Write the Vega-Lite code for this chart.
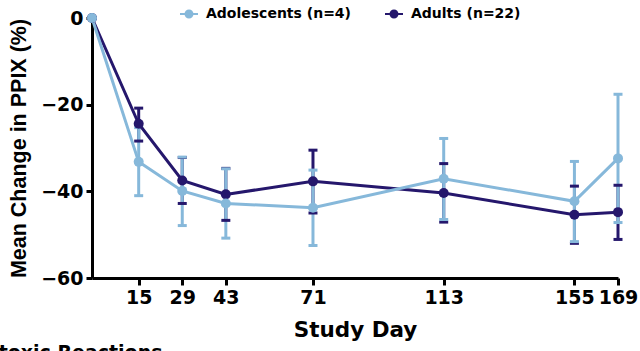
{
  "$schema": "https://vega.github.io/schema/vega-lite/v6.json",
  "autosize": "none",
  "width": 526,
  "height": 260,
  "padding": {"left": 92, "top": 18, "right": 22, "bottom": 73},
  "background": "white",
  "title": {"text": "Phototoxic Reactions", "orient": "bottom", "anchor": "start", "frame": "group", "dx": -156, "offset": 3, "baseline": "top", "fontSize": 19, "font": "DejaVu Sans", "fontWeight": "bold", "color": "black"},
  "config": {
    "view": {"stroke": null},
    "font": "DejaVu Sans",
    "axis": {"grid": false, "domainColor": "black", "domainWidth": 3, "tickColor": "black", "tickWidth": 3, "labelColor": "black", "labelFontWeight": "bold", "labelFont": "DejaVu Sans", "labelFontSize": 19, "titleFont": "DejaVu Sans", "titleFontWeight": "bold", "titleFontSize": 21.5, "titleColor": "black"}
  },
  "data": {"values": [
    {"day": 0, "group": "Adults (n=22)", "mean": 0, "lo": 0, "hi": 0},
    {"day": 15, "group": "Adults (n=22)", "mean": -24.4, "lo": -28.4, "hi": -20.8},
    {"day": 29, "group": "Adults (n=22)", "mean": -37.5, "lo": -42.8, "hi": -32.2},
    {"day": 43, "group": "Adults (n=22)", "mean": -40.7, "lo": -46.7, "hi": -34.7},
    {"day": 71, "group": "Adults (n=22)", "mean": -37.7, "lo": -45.0, "hi": -30.5},
    {"day": 113, "group": "Adults (n=22)", "mean": -40.4, "lo": -47.1, "hi": -33.6},
    {"day": 155, "group": "Adults (n=22)", "mean": -45.4, "lo": -52.0, "hi": -38.8},
    {"day": 169, "group": "Adults (n=22)", "mean": -44.8, "lo": -51.1, "hi": -38.6},
    {"day": 0, "group": "Adolescents (n=4)", "mean": 0, "lo": 0, "hi": 0},
    {"day": 15, "group": "Adolescents (n=4)", "mean": -33.2, "lo": -41.0, "hi": -25.3},
    {"day": 29, "group": "Adolescents (n=4)", "mean": -39.9, "lo": -47.9, "hi": -32.1},
    {"day": 43, "group": "Adolescents (n=4)", "mean": -42.8, "lo": -50.8, "hi": -34.8},
    {"day": 71, "group": "Adolescents (n=4)", "mean": -43.8, "lo": -52.5, "hi": -35.1},
    {"day": 113, "group": "Adolescents (n=4)", "mean": -37.1, "lo": -46.5, "hi": -27.8},
    {"day": 155, "group": "Adolescents (n=4)", "mean": -42.3, "lo": -51.6, "hi": -33.1},
    {"day": 169, "group": "Adolescents (n=4)", "mean": -32.4, "lo": -47.2, "hi": -17.6}
  ]},
  "encoding": {
    "x": {"field": "day", "type": "quantitative", "scale": {"domain": [0, 169], "nice": false, "zero": false},
          "axis": {"values": [15, 29, 43, 71, 113, 155, 169], "title": "Study Day", "tickSize": 7, "labelPadding": 3, "titlePadding": 12, "labelOverlap": false, "labelBound": false, "labelFlush": false}},
    "color": {"field": "group", "type": "nominal",
              "scale": {"domain": ["Adolescents (n=4)", "Adults (n=22)"], "range": ["#86b8da", "#25176c"]},
              "legend": {"orient": "none", "legendX": 88, "legendY": -13, "direction": "horizontal", "title": null,
                         "symbolType": "M-1,-0.12L1,-0.12L1,0.12L-1,0.12Z M-0.5,0A0.5,0.5 0 1,1 0.5,0A0.5,0.5 0 1,1 -0.5,0Z",
                         "symbolSize": 324, "symbolStrokeWidth": 0, "symbolOpacity": 1, "labelFontSize": 14, "labelFontWeight": "bold", "labelColor": "black", "labelFont": "DejaVu Sans", "columnPadding": 34, "labelOffset": 8}}
  },
  "layer": [
    {"mark": {"type": "rule", "strokeWidth": 3, "opacity": 1},
     "encoding": {"y": {"field": "lo", "type": "quantitative"}, "y2": {"field": "hi"}}},
    {"mark": {"type": "tick", "thickness": 3, "size": 9, "orient": "horizontal", "opacity": 1},
     "encoding": {"y": {"field": "lo", "type": "quantitative"}}},
    {"mark": {"type": "tick", "thickness": 3, "size": 9, "orient": "horizontal", "opacity": 1},
     "encoding": {"y": {"field": "hi", "type": "quantitative"}}},
    {"mark": {"type": "line", "strokeWidth": 3},
     "encoding": {"y": {"field": "mean", "type": "quantitative"}, "detail": {"field": "group"}}},
    {"mark": {"type": "point", "filled": true, "opacity": 1, "size": 100, "shape": "circle"},
     "encoding": {"y": {"field": "mean", "type": "quantitative",
                        "scale": {"domain": [-60, 0], "nice": false},
                        "axis": {"values": [0, -20, -40, -60], "title": "Mean Change in PPIX (%)", "titleFont": "Liberation Sans", "tickSize": 6, "labelPadding": 3, "titlePadding": 10}}}}
  ]
}
